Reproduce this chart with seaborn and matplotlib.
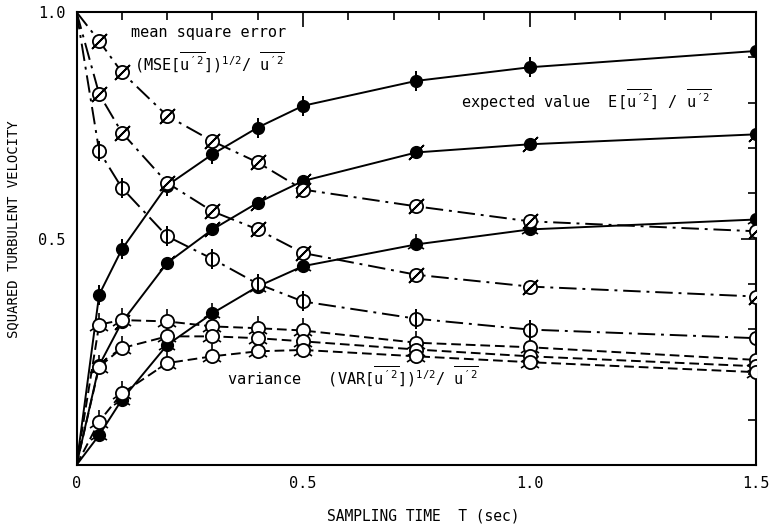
import matplotlib
matplotlib.use("Agg")
import matplotlib.pyplot as plt
import seaborn as sns

# ---------------- data ----------------
T = [0.05, 0.1, 0.2, 0.3, 0.4, 0.5, 0.75, 1.0, 1.5]
T_start = 0.0

# expected value E[u'^2]/u'^2 (filled circles, solid lines)
E_1 = [0.376, 0.476, 0.617, 0.686, 0.745, 0.793, 0.848, 0.878, 0.914]
E_2 = [0.220, 0.315, 0.446, 0.520, 0.579, 0.627, 0.690, 0.708, 0.730]
E_3 = [0.066, 0.144, 0.265, 0.335, 0.394, 0.439, 0.487, 0.520, 0.542]
E_start = 0.0

# mean square error (open circles, dash-dot lines)
MSE_1 = [0.936, 0.867, 0.771, 0.715, 0.668, 0.608, 0.571, 0.538, 0.516]
MSE_2 = [0.819, 0.734, 0.623, 0.560, 0.520, 0.468, 0.420, 0.394, 0.372]
MSE_3 = [0.693, 0.612, 0.505, 0.455, 0.400, 0.361, 0.323, 0.299, 0.280]
MSE_start = 1.0

# variance (open circles, dashed lines)
VAR_1 = [0.310, 0.320, 0.317, 0.306, 0.302, 0.297, 0.270, 0.260, 0.232]
VAR_2 = [0.217, 0.258, 0.284, 0.284, 0.280, 0.273, 0.255, 0.240, 0.218]
VAR_3 = [0.096, 0.158, 0.225, 0.240, 0.251, 0.254, 0.240, 0.227, 0.205]
VAR_start = 0.0

x_ticks = [0, 0.5, 1.0, 1.5]
x_ticklabels = ["0", "0.5", "1.0", "1.5"]
y_ticks = [0, 0.5, 1.0]
y_ticklabels = ["", "0.5", "1.0"]

# ---------------- style ----------------
sns.set_theme(style="white")
plt.rcParams["font.family"] = ["DejaVu Sans Mono"]
plt.rcParams["mathtext.fontset"] = "custom"
plt.rcParams["mathtext.rm"] = "DejaVu Sans Mono"
plt.rcParams["mathtext.it"] = "DejaVu Sans Mono"
plt.rcParams["mathtext.bf"] = "DejaVu Sans Mono:bold"

fig = plt.figure(figsize=(7.72, 5.27), dpi=100)
ax = fig.add_axes([0.0991, 0.1176, 0.8802, 0.8596])

LW = 1.4
solid = "-"
dashdot = (0, (9, 3, 1.5, 3))
dashed = (0, (5, 2.5))


def draw_line(ys, y0, ls):
    sns.lineplot(x=[T_start] + T, y=[y0] + ys, ax=ax, color="black", lw=LW,
                 linestyle=ls, sort=False, estimator=None, zorder=2)


for ys in (E_1, E_2, E_3):
    draw_line(ys, E_start, solid)
for ys in (MSE_1, MSE_2, MSE_3):
    draw_line(ys, MSE_start, dashdot)
for ys in (VAR_1, VAR_2, VAR_3):
    draw_line(ys, VAR_start, dashed)

# ---- markers ----
slash = (2, 2, -45)
vbar = (2, 2, 0)

# filled circles
for ys, over in ((E_1, vbar), (E_2, slash), (E_3, "2")):
    ax.plot(T, ys, ls="none", marker=over, ms=15, mew=1.2, color="black", zorder=3)
    ax.plot(T, ys, ls="none", marker="o", ms=8.5, mfc="black", mec="black", zorder=4)

# MSE open circles with slash / bar
for ys, over in ((MSE_1, slash), (MSE_2, slash), (MSE_3, vbar)):
    ax.plot(T, ys, ls="none", marker="o", ms=9.5, mfc="white", mec="black",
            mew=1.3, zorder=5)
    ax.plot(T, ys, ls="none", marker=over, ms=15, mew=1.3, color="black", zorder=6)

# variance open circles with small ticks
for ys in (VAR_1, VAR_2, VAR_3):
    ax.plot(T, ys, ls="none", marker="2", ms=17, mew=1.2, color="black", zorder=5)
    ax.plot(T, ys, ls="none", marker="o", ms=9.5, mfc="white", mec="black",
            mew=1.3, zorder=6)

# ---------------- axes ----------------
ax.set_xlim(0, 1.5)
ax.set_ylim(0, 1.0)
ax.set_xticks(x_ticks)
ax.set_xticklabels(x_ticklabels)
ax.set_yticks(y_ticks)
ax.set_yticklabels(y_ticklabels)
ax.set_xticks([i / 10 for i in range(16)], minor=True)
ax.set_yticks([i / 10 for i in range(11)], minor=True)
ax.tick_params(which="both", direction="in", top=True, right=True,
               color="black", width=1.2, labelsize=11, labelcolor="black")
ax.tick_params(which="major", length=11, pad=8)
ax.tick_params(which="minor", length=5.5)
for s in ax.spines.values():
    s.set_color("black")
    s.set_linewidth(1.5)

ax.set_xlabel("SAMPLING TIME  T (sec)", fontsize=10.5, color="black")
ax.xaxis.set_label_coords(0.511, -0.095)
ax.set_ylabel("SQUARED TURBULENT VELOCITY", fontsize=10, color="black")
ax.yaxis.set_label_coords(-0.083, 0.52)

U2 = r"\overline{u^{\prime 2}}"
tk = dict(fontsize=11, color="black", ha="center", va="center", zorder=7)
ax.text(0.2925, 0.954, "mean square error", **tk)
ax.text(0.2925, 0.887, r"(MSE$[" + U2 + r"]$)$^{1/2}$/ $" + U2 + "$", **tk)
ax.text(1.125, 0.806, r"expected value  E$[" + U2 + r"]$ / $" + U2 + "$", **tk)
ax.text(0.61, 0.194, r"variance   (VAR$[" + U2 + r"]$)$^{1/2}$/ $" + U2 + "$", **tk)

fig.savefig("out.png", dpi=100, facecolor="white")
